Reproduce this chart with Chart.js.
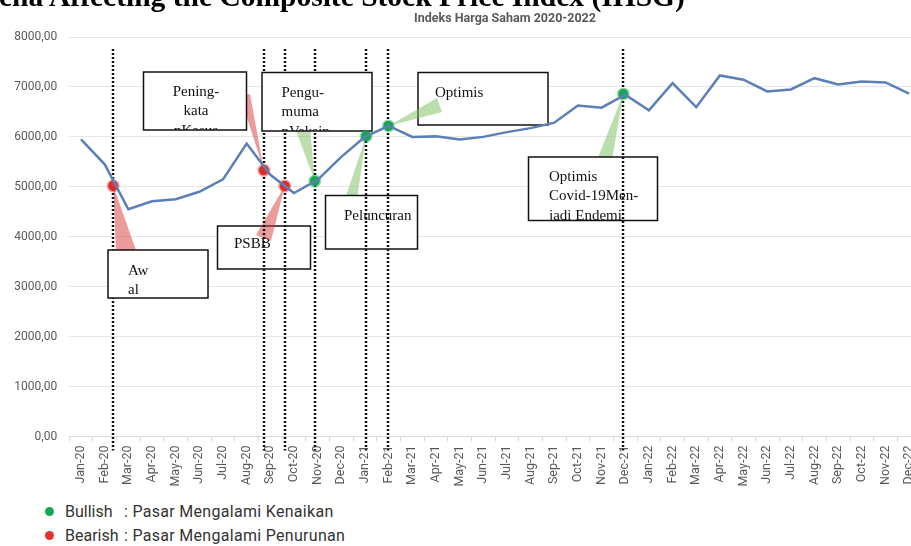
<!DOCTYPE html>
<html>
<head>
<meta charset="utf-8">
<script src="https://cdn.jsdelivr.net/npm/chart.js@4/dist/chart.umd.min.js"></script>
<style>
  body { margin: 0; width: 911px; height: 546px; overflow: hidden; background: #fff; position: relative; }
  #wrap { position: absolute; left: 0; top: 0; width: 930px; height: 500px; }
  .head { position: absolute; left: -1px; top: -18px; font: bold 29.5px/29px "Liberation Serif", serif; white-space: nowrap; color: #000; }
  .sub { position: absolute; left: 505px; top: 10px; transform: translateX(-50%); font: bold 12.5px Roboto, sans-serif; color: #595959; white-space: nowrap; }
  .key { position: absolute; left: 45px; font: 16px Roboto, sans-serif; letter-spacing: 0.3px; color: #333; white-space: nowrap; }
  .key i { display: inline-block; width: 9px; height: 9px; border-radius: 50%; margin-right: 11px; vertical-align: 1px; }
  .key b { display: inline-block; width: 59px; font-weight: normal; letter-spacing: 0; }
</style>
</head>
<body>
<div id="wrap"><canvas id="ihsg"></canvas></div>
<div class="head">ena Affecting the Composite Stock Price Index (IHSG)</div>
<div class="sub">Indeks Harga Saham 2020-2022</div>
<div class="key" style="top:502px"><i style="background:#1aa553"></i><b>Bullish</b>: Pasar Mengalami Kenaikan</div>
<div class="key" style="top:526px"><i style="background:#e8302a"></i><b>Bearish</b>: Pasar Mengalami Penurunan</div>
<script>
const months = ['Jan-20', 'Feb-20', 'Mar-20', 'Apr-20', 'May-20', 'Jun-20', 'Jul-20', 'Aug-20', 'Sep-20', 'Oct-20', 'Nov-20', 'Dec-20',
  'Jan-21', 'Feb-21', 'Mar-21', 'Apr-21', 'May-21', 'Jun-21', 'Jul-21', 'Aug-21', 'Sep-21', 'Oct-21', 'Nov-21', 'Dec-21',
  'Jan-22', 'Feb-22', 'Mar-22', 'Apr-22', 'May-22', 'Jun-22', 'Jul-22', 'Aug-22', 'Sep-22', 'Oct-22', 'Nov-22', 'Dec-22'];

const ihsg = [5950, 5450, 4550, 4710, 4750, 4900, 5150, 5865, 5240, 4875, 5140, 5600,
  6000, 6220, 6000, 6010, 5950, 6000, 6095, 6175, 6285, 6630, 6585, 6845,
  6530, 7075, 6595, 7230, 7145, 6910, 6950, 7175, 7050, 7110, 7090, 6865];

const yTicks = [0, 1000, 2000, 3000, 4000, 5000, 6000, 7000, 8000];

// events: position on the month axis (0 = Jan-20), index level, market mood
const eventPos = [1.36, 7.73, 8.61, 9.88, 12.05, 12.99, 22.92];
const eventValues = [5020, 5330, 5015, 5115, 6015, 6220, 6860];
const eventMood = ['bear', 'bear', 'bear', 'bull', 'bull', 'bull', 'bull'];
const eventNotes = [
  ['Aw', 'al'],
  ['Pening-', 'kata', 'nKasus'],
  ['PSBB'],
  ['Pengu-', 'muma', 'nVaksin'],
  ['Peluncuran'],
  ['Optimis'],
  ['Optimis', 'Covid-19Men-', 'jadi Endemi']
];

const moodColor = { bull: '#1aa553', bear: '#e02b27' };
const moodGlow = { bull: 'rgba(26,165,83,0.45)', bear: 'rgba(224,43,39,0.45)' };
const moodWedge = { bull: 'rgba(120,190,90,0.5)', bear: 'rgba(215,55,55,0.5)' };

// note boxes in page pixels; layer 'back' sits under the dotted guides
const noteBoxes = [
  { box: [108, 250, 100, 48], tx: 128, ty: 271, align: 'left', layer: 'front', wedge: [[116, 253], [137, 253]], over: false },
  { box: [143.5, 72, 103, 58], tx: 196, ty: 92, align: 'center', layer: 'front', wedge: [[240, 96], [250, 94]], over: false },
  { box: [217.5, 226, 93, 43], tx: 234, ty: 244, align: 'left', layer: 'back', wedge: [[256, 235], [271, 241]], over: true },
  { box: [262, 72.5, 110, 58.5], tx: 281.5, ty: 93, align: 'left', layer: 'front', wedge: [[295, 128], [310, 128]], over: false },
  { box: [325.5, 195.5, 92, 53.5], tx: 344, ty: 216, align: 'left', layer: 'back', wedge: [[345, 199], [357, 199]], over: false },
  { box: [418, 72.5, 130, 52.5], tx: 435, ty: 93, align: 'left', layer: 'front', wedge: [[437, 98], [442, 112]], over: true },
  { box: [528.5, 157, 129, 63.5], tx: 549, ty: 177, align: 'left', layer: 'back', wedge: [[597, 160], [612, 160]], over: false }
];

const notesPlugin = {
  id: 'notes',
  beforeDatasetsDraw(chart) {
    const ctx = chart.ctx;
    const xe = chart.scales.xe;
    const y = chart.scales.y;
    const area = chart.chartArea;

    const wedge = i => {
      const w = noteBoxes[i].wedge;
      ctx.beginPath();
      ctx.moveTo(xe.getPixelForValue(eventPos[i]), y.getPixelForValue(eventValues[i]));
      ctx.lineTo(w[0][0], w[0][1]);
      ctx.lineTo(w[1][0], w[1][1]);
      ctx.closePath();
      ctx.fillStyle = moodWedge[eventMood[i]];
      ctx.fill();
    };

    const box = i => {
      const n = noteBoxes[i];
      const [bx, by, bw, bh] = n.box;
      ctx.save();
      ctx.fillStyle = '#fff';
      ctx.fillRect(bx, by, bw, bh);
      ctx.beginPath();
      ctx.rect(bx, by, bw, bh);
      ctx.clip();
      ctx.fillStyle = '#111';
      ctx.font = '15px "Liberation Serif", serif';
      ctx.textAlign = n.align;
      ctx.textBaseline = 'middle';
      eventNotes[i].forEach((t, k) => ctx.fillText(t, n.tx, n.ty + k * 19.5));
      ctx.restore();
      ctx.strokeStyle = '#111';
      ctx.lineWidth = 1.5;
      ctx.strokeRect(bx, by, bw, bh);
    };

    ctx.save();
    noteBoxes.forEach((n, i) => { if (!n.over) wedge(i); });
    noteBoxes.forEach((n, i) => { if (n.layer === 'back') box(i); });
    noteBoxes.forEach((n, i) => { if (n.over && n.layer === 'back') wedge(i); });

    // dotted guides at each event
    ctx.setLineDash([2, 2]);
    ctx.lineWidth = 2.5;
    ctx.strokeStyle = '#111';
    eventPos.forEach(p => {
      const px = Math.round(xe.getPixelForValue(p));
      ctx.beginPath();
      ctx.moveTo(px, area.top + 12);
      ctx.lineTo(px, area.bottom + 14);
      ctx.stroke();
    });
    ctx.setLineDash([]);

    noteBoxes.forEach((n, i) => { if (n.layer === 'front') box(i); });
    noteBoxes.forEach((n, i) => { if (n.over && n.layer === 'front') wedge(i); });
    ctx.restore();
  }
};

new Chart(document.getElementById('ihsg'), {
  type: 'line',
  data: {
    labels: months,
    datasets: [
      {
        data: ihsg,
        borderColor: '#5b7fb6',
        borderWidth: 2.5,
        pointRadius: 0,
        tension: 0
      },
      {
        data: eventPos.map((p, i) => ({ x: p, y: eventValues[i] })),
        xAxisID: 'xe',
        showLine: false,
        pointRadius: 5,
        pointBorderWidth: 3,
        pointBackgroundColor: eventMood.map(m => moodColor[m]),
        pointBorderColor: eventMood.map(m => moodGlow[m])
      }
    ]
  },
  plugins: [notesPlugin],
  options: {
    responsive: true,
    maintainAspectRatio: false,
    animation: false,
    layout: { padding: { top: 37, right: 9, left: 0, bottom: 0 } },
    plugins: { legend: { display: false }, tooltip: { enabled: false } },
    scales: {
      x: {
        offset: true,
        grid: { drawOnChartArea: false, offset: true, tickLength: 5, color: '#d9d9d9' },
        border: { color: '#d9d9d9' },
        ticks: {
          autoSkip: false, maxRotation: 90, minRotation: 90, padding: 4,
          color: '#595959', font: { family: 'Roboto', size: 12.5 }
        },
        afterFit: s => { s.height = 63.5; }
      },
      xe: {
        type: 'linear', display: false, min: -0.5, max: months.length - 0.5
      },
      y: {
        min: 0, max: 8000,
        afterBuildTicks: s => { s.ticks = yTicks.map(v => ({ value: v })); },
        grid: { color: '#e6e6e6', drawTicks: false },
        border: { display: false },
        ticks: {
          padding: 12,
          color: '#595959',
          font: { family: 'Roboto', size: 12 },
          callback: v => v.toFixed(2).replace('.', ',')
        },
        afterFit: s => { s.width = 69.2; }
      }
    }
  }
});
</script>
</body>
</html>
